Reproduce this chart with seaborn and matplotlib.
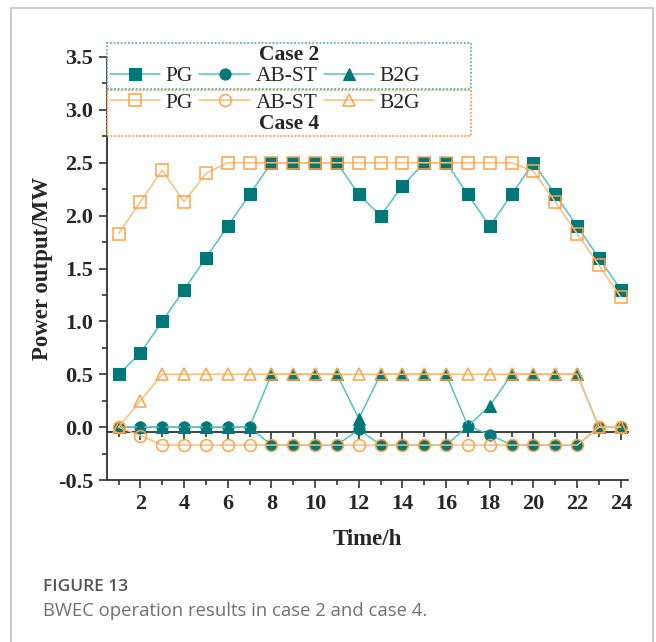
import matplotlib
matplotlib.use("Agg")
import matplotlib.pyplot as plt
from matplotlib.patches import Rectangle
from matplotlib.offsetbox import DrawingArea
from matplotlib.ticker import MultipleLocator
import seaborn as sns

# hourly BWEC outputs (MW)
hours = list(range(1, 25))
pg_case2 = [0.5, 0.7, 1.0, 1.3, 1.6, 1.9, 2.2, 2.5, 2.5, 2.5, 2.5, 2.2,
            2.0, 2.28, 2.5, 2.5, 2.2, 1.9, 2.2, 2.5, 2.2, 1.9, 1.6, 1.3]
ab_case2 = [0, 0, 0, 0, 0, 0, 0, -0.17, -0.17, -0.17, -0.17, -0.02,
            -0.17, -0.17, -0.17, -0.17, 0.01, -0.07, -0.17, -0.17, -0.17, -0.17, 0, 0]
b2g_case2 = [0, 0, 0, 0, 0, 0, 0, 0.5, 0.5, 0.5, 0.5, 0.08,
             0.5, 0.5, 0.5, 0.5, 0.01, 0.2, 0.5, 0.5, 0.5, 0.5, 0, 0]
pg_case4 = [1.83, 2.13, 2.43, 2.13, 2.4, 2.5, 2.5, 2.5, 2.5, 2.5, 2.5, 2.5,
            2.5, 2.5, 2.5, 2.5, 2.5, 2.5, 2.5, 2.42, 2.13, 1.83, 1.53, 1.23]
ab_case4 = [0, -0.08] + [-0.17] * 20 + [0, 0]
b2g_case4 = [0, 0.25] + [0.5] * 20 + [0, 0]
series_labels = ["PG", "AB-ST", "B2G"]
x_ticks = list(range(2, 25, 2))

sns.set_style("ticks")
plt.rcParams['font.family'] = ['Liberation Serif', 'DejaVu Serif']

W, H = 656, 642
fig = plt.figure(figsize=(W / 100, H / 100), dpi=100)
ax = fig.add_axes([107 / W, 1 - 480 / H, (628 - 107) / W, (480 - 57) / H])

teal_line, teal_fill = '#55c2c2', '#00787a'
orange_line, orange_edge = '#ffbd7a', '#ffa347'
markers = ['s', 'o', '^']

handles2 = []
for vals, mk in zip([pg_case2, ab_case2, b2g_case2], markers):
    sns.lineplot(x=hours, y=vals, ax=ax, color=teal_line, linewidth=1.1,
                 marker=mk, markersize=8, markerfacecolor=teal_fill,
                 markeredgecolor=teal_fill, markeredgewidth=0.8, zorder=3)
    handles2.append(ax.lines[-1])

handles4 = []
for vals, mk in zip([pg_case4, ab_case4, b2g_case4], markers):
    sns.lineplot(x=hours, y=vals, ax=ax, color=orange_line, linewidth=1.1,
                 marker=mk, markersize=8.5, markerfacecolor='none',
                 markeredgecolor=orange_edge, markeredgewidth=1.1, zorder=4)
    handles4.append(ax.lines[-1])

ax.set_xlim(0.47, 24.33)
ax.set_ylim(-0.5, 3.5)
ax.set_xticks(x_ticks)
ax.xaxis.set_minor_locator(MultipleLocator(1))
ax.yaxis.set_major_locator(MultipleLocator(0.5))
ax.yaxis.set_minor_locator(MultipleLocator(0.25))
ax.yaxis.set_major_formatter(matplotlib.ticker.FormatStrFormatter('%.1f'))
sns.despine(ax=ax)
for s in ['left', 'bottom']:
    ax.spines[s].set_linewidth(1.3)
    ax.spines[s].set_color('#333333')
ax.tick_params(which='major', direction='out', length=6, width=1.2, color='#333333',
               labelsize=16, pad=4)
ax.tick_params(which='minor', direction='out', length=3.5, width=1.2, color='#333333')
for lab in ax.get_xticklabels() + ax.get_yticklabels():
    lab.set_fontweight('bold')

# horizontal axis line through zero
zero_frac = (-0.045 - (-0.5)) / 4.0
sec = ax.secondary_xaxis(zero_frac)
sec.set_xticks(x_ticks)
sec.xaxis.set_minor_locator(MultipleLocator(1))
sec.tick_params(which='major', direction='out', length=6, width=1.2, color='#333333',
                labelbottom=False, labeltop=False)
sec.tick_params(which='minor', direction='out', length=3.5, width=1.2, color='#333333')
for sp in sec.spines.values():
    sp.set_linewidth(1.3)
    sp.set_color('#333333')

ax.set_xlabel('Time/h', fontsize=16.5, fontweight='bold')
ax.set_ylabel('Power output/MW', fontsize=16.5, fontweight='bold')
ax.xaxis.set_label_coords(0.5, -0.115)
ax.yaxis.set_label_coords(-0.104, 0.5)

common = dict(ncol=3, frameon=True, fancybox=False, fontsize=15.5,
              title_fontproperties={'weight': 'bold', 'size': 15.5},
              handlelength=2.35, handletextpad=0.25, columnspacing=0.3,
              borderaxespad=0, borderpad=0.12, labelspacing=0.05,
              bbox_transform=fig.transFigure)
leg2 = fig.legend(handles2, series_labels, title='Case 2', loc='lower left',
                  bbox_to_anchor=(107 / W, 1 - 89 / H), **common)
leg4 = fig.legend(handles4, series_labels, title='Case 4', loc='upper left',
                  bbox_to_anchor=(107 / W, 1 - 90 / H), **common)
leg4._legend_box._children.reverse()
for leg, col in [(leg2, '#3a9fb5'), (leg4, '#ff7f27')]:
    # empty room on the right of the entries, as in the original boxes
    leg._legend_handle_box._children.append(DrawingArea(30, 1))
    fr = leg.get_frame()
    fr.set_edgecolor(col)
    fr.set_linestyle((0, (1, 1)))
    fr.set_linewidth(1.3)

# figure card frame and caption
fig.add_artist(Rectangle((11 / W, -0.1), (653 - 11) / W, 1 - 8 / H + 0.1,
                         transform=fig.transFigure, fill=False,
                         edgecolor='#c8c8c8', linewidth=1.3))
fig.text(43 / W, 1 - 587 / H, 'FIGURE 13', ha='left', va='center', fontsize=12.5,
         color='#555555', family='Open Sans', fontweight='semibold')
fig.text(43 / W, 1 - 611 / H, 'BWEC operation results in case 2 and case 4.',
         ha='left', va='center', fontsize=13.3, color='#707070', family='Open Sans')

fig.savefig('out.png', dpi=100)
